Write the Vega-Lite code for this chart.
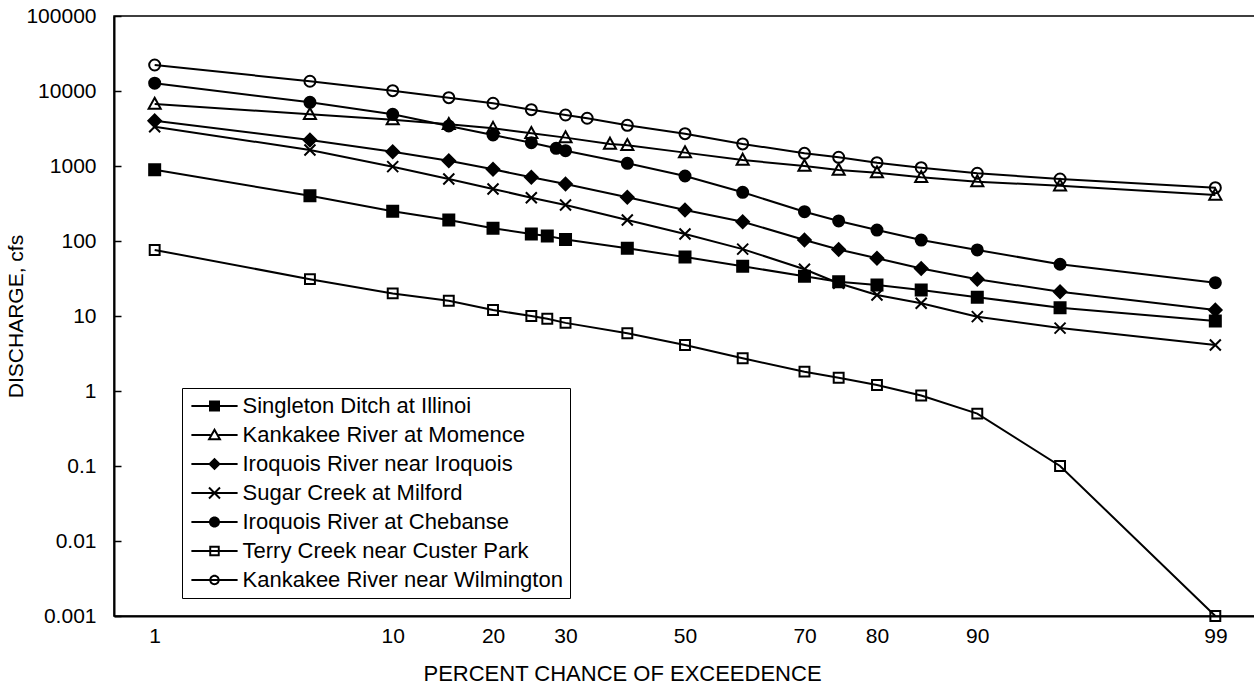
{
  "$schema": "https://vega.github.io/schema/vega-lite/v6.json",
  "autosize": {"type": "none"},
  "padding": {"left": 114, "top": 16, "right": 0, "bottom": 69},
  "width": 1142,
  "height": 600,
  "background": "white",
  "config": {
    "font": "Liberation Sans",
    "view": {"stroke": "black", "strokeWidth": 1.5},
    "axis": {"grid": false, "labelColor": "black", "titleColor": "black", "domainColor": "black", "tickColor": "black", "titleFontWeight": "normal"}
  },
  "data": {"values": [
    {"s": "Singleton Ditch at Illinoi", "p": 1, "z": -2.326, "q": 890},
    {"s": "Singleton Ditch at Illinoi", "p": 5, "z": -1.645, "q": 400},
    {"s": "Singleton Ditch at Illinoi", "p": 10, "z": -1.282, "q": 250},
    {"s": "Singleton Ditch at Illinoi", "p": 15, "z": -1.036, "q": 190},
    {"s": "Singleton Ditch at Illinoi", "p": 20, "z": -0.842, "q": 148},
    {"s": "Singleton Ditch at Illinoi", "p": 25, "z": -0.674, "q": 124},
    {"s": "Singleton Ditch at Illinoi", "p": 27.3, "z": -0.604, "q": 117},
    {"s": "Singleton Ditch at Illinoi", "p": 30, "z": -0.524, "q": 105},
    {"s": "Singleton Ditch at Illinoi", "p": 40, "z": -0.253, "q": 80},
    {"s": "Singleton Ditch at Illinoi", "p": 50, "z": 0, "q": 61},
    {"s": "Singleton Ditch at Illinoi", "p": 60, "z": 0.253, "q": 46},
    {"s": "Singleton Ditch at Illinoi", "p": 70, "z": 0.524, "q": 34},
    {"s": "Singleton Ditch at Illinoi", "p": 75, "z": 0.674, "q": 28.7},
    {"s": "Singleton Ditch at Illinoi", "p": 80, "z": 0.842, "q": 25.9},
    {"s": "Singleton Ditch at Illinoi", "p": 85, "z": 1.036, "q": 22.2},
    {"s": "Singleton Ditch at Illinoi", "p": 90, "z": 1.282, "q": 17.8},
    {"s": "Singleton Ditch at Illinoi", "p": 95, "z": 1.645, "q": 12.9},
    {"s": "Singleton Ditch at Illinoi", "p": 99, "z": 2.326, "q": 8.6},
    {"s": "Kankakee River at Momence", "p": 1, "z": -2.326, "q": 6700},
    {"s": "Kankakee River at Momence", "p": 5, "z": -1.645, "q": 4890},
    {"s": "Kankakee River at Momence", "p": 10, "z": -1.282, "q": 4150},
    {"s": "Kankakee River at Momence", "p": 15, "z": -1.036, "q": 3600},
    {"s": "Kankakee River at Momence", "p": 20, "z": -0.842, "q": 3190},
    {"s": "Kankakee River at Momence", "p": 25, "z": -0.674, "q": 2730},
    {"s": "Kankakee River at Momence", "p": 30, "z": -0.524, "q": 2390},
    {"s": "Kankakee River at Momence", "p": 37.1, "z": -0.329, "q": 1965},
    {"s": "Kankakee River at Momence", "p": 40, "z": -0.253, "q": 1888},
    {"s": "Kankakee River at Momence", "p": 50, "z": 0, "q": 1508},
    {"s": "Kankakee River at Momence", "p": 60, "z": 0.253, "q": 1202},
    {"s": "Kankakee River at Momence", "p": 70, "z": 0.524, "q": 1000},
    {"s": "Kankakee River at Momence", "p": 75, "z": 0.674, "q": 885},
    {"s": "Kankakee River at Momence", "p": 80, "z": 0.842, "q": 815},
    {"s": "Kankakee River at Momence", "p": 85, "z": 1.036, "q": 706},
    {"s": "Kankakee River at Momence", "p": 90, "z": 1.282, "q": 618},
    {"s": "Kankakee River at Momence", "p": 95, "z": 1.645, "q": 546},
    {"s": "Kankakee River at Momence", "p": 99, "z": 2.326, "q": 411},
    {"s": "Iroquois River near Iroquois", "p": 1, "z": -2.326, "q": 4020},
    {"s": "Iroquois River near Iroquois", "p": 5, "z": -1.645, "q": 2220},
    {"s": "Iroquois River near Iroquois", "p": 10, "z": -1.282, "q": 1553},
    {"s": "Iroquois River near Iroquois", "p": 15, "z": -1.036, "q": 1177},
    {"s": "Iroquois River near Iroquois", "p": 20, "z": -0.842, "q": 904},
    {"s": "Iroquois River near Iroquois", "p": 25, "z": -0.674, "q": 706},
    {"s": "Iroquois River near Iroquois", "p": 30, "z": -0.524, "q": 575},
    {"s": "Iroquois River near Iroquois", "p": 40, "z": -0.253, "q": 382},
    {"s": "Iroquois River near Iroquois", "p": 50, "z": 0, "q": 259},
    {"s": "Iroquois River near Iroquois", "p": 60, "z": 0.253, "q": 181},
    {"s": "Iroquois River near Iroquois", "p": 70, "z": 0.524, "q": 103},
    {"s": "Iroquois River near Iroquois", "p": 75, "z": 0.674, "q": 77},
    {"s": "Iroquois River near Iroquois", "p": 80, "z": 0.842, "q": 59},
    {"s": "Iroquois River near Iroquois", "p": 85, "z": 1.036, "q": 43},
    {"s": "Iroquois River near Iroquois", "p": 90, "z": 1.282, "q": 31},
    {"s": "Iroquois River near Iroquois", "p": 95, "z": 1.645, "q": 21},
    {"s": "Iroquois River near Iroquois", "p": 99, "z": 2.326, "q": 12},
    {"s": "Sugar Creek at Milford", "p": 1, "z": -2.326, "q": 3340},
    {"s": "Sugar Creek at Milford", "p": 5, "z": -1.645, "q": 1635},
    {"s": "Sugar Creek at Milford", "p": 10, "z": -1.282, "q": 980},
    {"s": "Sugar Creek at Milford", "p": 15, "z": -1.036, "q": 671},
    {"s": "Sugar Creek at Milford", "p": 20, "z": -0.842, "q": 494},
    {"s": "Sugar Creek at Milford", "p": 25, "z": -0.674, "q": 378},
    {"s": "Sugar Creek at Milford", "p": 30, "z": -0.524, "q": 302},
    {"s": "Sugar Creek at Milford", "p": 40, "z": -0.253, "q": 191},
    {"s": "Sugar Creek at Milford", "p": 50, "z": 0, "q": 124},
    {"s": "Sugar Creek at Milford", "p": 60, "z": 0.253, "q": 78},
    {"s": "Sugar Creek at Milford", "p": 70, "z": 0.524, "q": 42},
    {"s": "Sugar Creek at Milford", "p": 75, "z": 0.674, "q": 27.3},
    {"s": "Sugar Creek at Milford", "p": 80, "z": 0.842, "q": 19.1},
    {"s": "Sugar Creek at Milford", "p": 85, "z": 1.036, "q": 14.8},
    {"s": "Sugar Creek at Milford", "p": 90, "z": 1.282, "q": 9.8},
    {"s": "Sugar Creek at Milford", "p": 95, "z": 1.645, "q": 6.9},
    {"s": "Sugar Creek at Milford", "p": 99, "z": 2.326, "q": 4.1},
    {"s": "Iroquois River at Chebanse", "p": 1, "z": -2.326, "q": 12700},
    {"s": "Iroquois River at Chebanse", "p": 5, "z": -1.645, "q": 7060},
    {"s": "Iroquois River at Chebanse", "p": 10, "z": -1.282, "q": 4890},
    {"s": "Iroquois River at Chebanse", "p": 15, "z": -1.036, "q": 3415},
    {"s": "Iroquois River at Chebanse", "p": 20, "z": -0.842, "q": 2590},
    {"s": "Iroquois River at Chebanse", "p": 25, "z": -0.674, "q": 2047},
    {"s": "Iroquois River at Chebanse", "p": 28.6, "z": -0.565, "q": 1722},
    {"s": "Iroquois River at Chebanse", "p": 30, "z": -0.524, "q": 1600},
    {"s": "Iroquois River at Chebanse", "p": 40, "z": -0.253, "q": 1086},
    {"s": "Iroquois River at Chebanse", "p": 50, "z": 0, "q": 736},
    {"s": "Iroquois River at Chebanse", "p": 60, "z": 0.253, "q": 446},
    {"s": "Iroquois River at Chebanse", "p": 70, "z": 0.524, "q": 246},
    {"s": "Iroquois River at Chebanse", "p": 75, "z": 0.674, "q": 185},
    {"s": "Iroquois River at Chebanse", "p": 80, "z": 0.842, "q": 140},
    {"s": "Iroquois River at Chebanse", "p": 85, "z": 1.036, "q": 103},
    {"s": "Iroquois River at Chebanse", "p": 90, "z": 1.282, "q": 76},
    {"s": "Iroquois River at Chebanse", "p": 95, "z": 1.645, "q": 49},
    {"s": "Iroquois River at Chebanse", "p": 99, "z": 2.326, "q": 27.8},
    {"s": "Terry Creek near Custer Park", "p": 1, "z": -2.326, "q": 76},
    {"s": "Terry Creek near Custer Park", "p": 5, "z": -1.645, "q": 31},
    {"s": "Terry Creek near Custer Park", "p": 10, "z": -1.282, "q": 20},
    {"s": "Terry Creek near Custer Park", "p": 15, "z": -1.036, "q": 16},
    {"s": "Terry Creek near Custer Park", "p": 20, "z": -0.842, "q": 12},
    {"s": "Terry Creek near Custer Park", "p": 25, "z": -0.674, "q": 10},
    {"s": "Terry Creek near Custer Park", "p": 27.3, "z": -0.604, "q": 9.2},
    {"s": "Terry Creek near Custer Park", "p": 30, "z": -0.524, "q": 8.1},
    {"s": "Terry Creek near Custer Park", "p": 40, "z": -0.253, "q": 5.9},
    {"s": "Terry Creek near Custer Park", "p": 50, "z": 0, "q": 4.1},
    {"s": "Terry Creek near Custer Park", "p": 60, "z": 0.253, "q": 2.73},
    {"s": "Terry Creek near Custer Park", "p": 70, "z": 0.524, "q": 1.81},
    {"s": "Terry Creek near Custer Park", "p": 75, "z": 0.674, "q": 1.5},
    {"s": "Terry Creek near Custer Park", "p": 80, "z": 0.842, "q": 1.2},
    {"s": "Terry Creek near Custer Park", "p": 85, "z": 1.036, "q": 0.87},
    {"s": "Terry Creek near Custer Park", "p": 90, "z": 1.282, "q": 0.5},
    {"s": "Terry Creek near Custer Park", "p": 95, "z": 1.645, "q": 0.1},
    {"s": "Terry Creek near Custer Park", "p": 99, "z": 2.326, "q": 0.001},
    {"s": "Kankakee River near Wilmington", "p": 1, "z": -2.326, "q": 22200},
    {"s": "Kankakee River near Wilmington", "p": 5, "z": -1.645, "q": 13500},
    {"s": "Kankakee River near Wilmington", "p": 10, "z": -1.282, "q": 10100},
    {"s": "Kankakee River near Wilmington", "p": 15, "z": -1.036, "q": 8150},
    {"s": "Kankakee River near Wilmington", "p": 20, "z": -0.842, "q": 6860},
    {"s": "Kankakee River near Wilmington", "p": 25, "z": -0.674, "q": 5640},
    {"s": "Kankakee River near Wilmington", "p": 30, "z": -0.524, "q": 4790},
    {"s": "Kankakee River near Wilmington", "p": 33.4, "z": -0.429, "q": 4330},
    {"s": "Kankakee River near Wilmington", "p": 40, "z": -0.253, "q": 3490},
    {"s": "Kankakee River near Wilmington", "p": 50, "z": 0, "q": 2700},
    {"s": "Kankakee River near Wilmington", "p": 60, "z": 0.253, "q": 1970},
    {"s": "Kankakee River near Wilmington", "p": 70, "z": 0.524, "q": 1475},
    {"s": "Kankakee River near Wilmington", "p": 75, "z": 0.674, "q": 1306},
    {"s": "Kankakee River near Wilmington", "p": 80, "z": 0.842, "q": 1107},
    {"s": "Kankakee River near Wilmington", "p": 85, "z": 1.036, "q": 949},
    {"s": "Kankakee River near Wilmington", "p": 90, "z": 1.282, "q": 800},
    {"s": "Kankakee River near Wilmington", "p": 95, "z": 1.645, "q": 671},
    {"s": "Kankakee River near Wilmington", "p": 99, "z": 2.326, "q": 514}
  ]},
  "encoding": {
    "x": {
      "field": "z", "type": "quantitative",
      "scale": {"type": "linear", "zero": false, "nice": false, "domain": [-2.5044, 2.5044]},
      "axis": {
        "values": [-2.3263, -1.2816, -0.8416, -0.5244, 0, 0.5244, 0.8416, 1.2816, 2.3263],
        "labelExpr": "round(cumulativeNormal(datum.value) * 100)",
        "ticks": false, "domainWidth": 2, "labelFontSize": 21, "labelPadding": 9,
        "labelFlush": false, "labelOverlap": false,
        "title": "PERCENT CHANCE OF EXCEEDENCE", "titleFontSize": 22,
        "titleX": 508, "titleY": 57, "titleBaseline": "middle", "titleAlign": "center"
      }
    },
    "y": {
      "field": "q", "type": "quantitative",
      "scale": {"type": "log", "domain": [0.001, 100000], "nice": false},
      "axis": {
        "values": [0.001, 0.01, 0.1, 1, 10, 100, 1000, 10000, 100000],
        "format": "~g", "domainWidth": 2, "tickSize": -7, "tickWidth": 1.5,
        "labelPadding": 25, "labelFontSize": 21,
        "title": "DISCHARGE, cfs", "titleFontSize": 21,
        "titleX": -98, "titleY": 300, "titleAngle": -90, "titleBaseline": "middle", "titleAlign": "center"
      }
    }
  },
  "resolve": {"scale": {"shape": "independent"}, "legend": {"shape": "independent"}},
  "layer": [
    {
      "mark": {"type": "line", "color": "black", "strokeWidth": 2},
      "encoding": {"detail": {"field": "s", "type": "nominal"}}
    },
    {
      "mark": {"type": "point", "size": 121, "stroke": "black", "strokeWidth": 2, "opacity": 1, "fillOpacity": 1},
      "encoding": {
        "shape": {
          "field": "s", "type": "nominal", "legend": null,
          "scale": {
            "domain": ["Singleton Ditch at Illinoi", "Kankakee River at Momence", "Iroquois River near Iroquois", "Sugar Creek at Milford", "Iroquois River at Chebanse", "Terry Creek near Custer Park", "Kankakee River near Wilmington"],
            "range": [
              "M-1,-1H1V1H-1Z",
              "M0,-1.15L1.1,0.85H-1.1Z",
              "M0,-1.15L1.15,0L0,1.15L-1.15,0Z",
              "M-1,-1L1,1M1,-1L-1,1",
              "M1,0A1,1,0,1,1,-1,0A1,1,0,1,1,1,0Z",
              "M-0.9,-0.9H0.9V0.9H-0.9Z",
              "M1,0A1,1,0,1,1,-1,0A1,1,0,1,1,1,0Z"
            ]
          }
        },
        "fill": {
          "field": "s", "type": "nominal", "legend": null,
          "scale": {
            "domain": ["Singleton Ditch at Illinoi", "Kankakee River at Momence", "Iroquois River near Iroquois", "Sugar Creek at Milford", "Iroquois River at Chebanse", "Terry Creek near Custer Park", "Kankakee River near Wilmington"],
            "range": ["black", "transparent", "black", "transparent", "black", "transparent", "transparent"]
          }
        }
      }
    },
    {
      "mark": {"type": "point", "filled": true, "color": "black", "size": 121, "opacity": 0, "strokeWidth": 0},
      "encoding": {
        "shape": {
          "field": "s", "type": "nominal",
          "scale": {
            "domain": ["Singleton Ditch at Illinoi", "Kankakee River at Momence", "Iroquois River near Iroquois", "Sugar Creek at Milford", "Iroquois River at Chebanse", "Terry Creek near Custer Park", "Kankakee River near Wilmington"],
            "range": [
              "M-4.2,-0.18H4.2V0.18H-4.2ZM-1,-1H1V1H-1Z",
              "M-4.2,-0.18H-0.72V0.18H-4.2ZM0.72,-0.18H4.2V0.18H0.72ZM0,-1.3L1.3,0.95H-1.3ZM0,-0.58L-0.67,0.59H0.67Z",
              "M-4.2,-0.18H4.2V0.18H-4.2ZM0,-1.15L1.15,0L0,1.15L-1.15,0Z",
              "M-4.2,-0.18H4.2V0.18H-4.2ZM-1.13,-0.87L-0.87,-1.13L1.13,0.87L0.87,1.13ZM0.87,-1.13L1.13,-0.87L-0.87,1.13L-1.13,0.87Z",
              "M-4.2,-0.18H4.2V0.18H-4.2ZM1,0A1,1,0,1,1,-1,0A1,1,0,1,1,1,0Z",
              "M-4.2,-0.18H4.2V0.18H-4.2ZM-0.95,-0.95H0.95V0.95H-0.95ZM-0.6,-0.6V0.6H0.6V-0.6Z",
              "M-4.2,-0.18H4.2V0.18H-4.2ZM0.95,0A0.95,0.95,0,1,1,-0.95,0A0.95,0.95,0,1,1,0.95,0ZM0.6,0A0.6,0.6,0,1,0,-0.6,0A0.6,0.6,0,1,0,0.6,0Z"
            ]
          },
          "legend": {
            "title": null, "orient": "none", "legendX": 68, "legendY": 372,
            "padding": 7, "fillColor": "white", "strokeColor": "black",
            "labelFontSize": 22, "labelColor": "black", "labelLimit": 0,
            "symbolSize": 121, "symbolOffset": 14.5, "labelOffset": 17, "rowPadding": 7,
            "symbolOpacity": 1, "symbolFillColor": "black", "symbolStrokeWidth": 0, "symbolStrokeColor": "transparent"
          }
        }
      }
    }
  ]
}
